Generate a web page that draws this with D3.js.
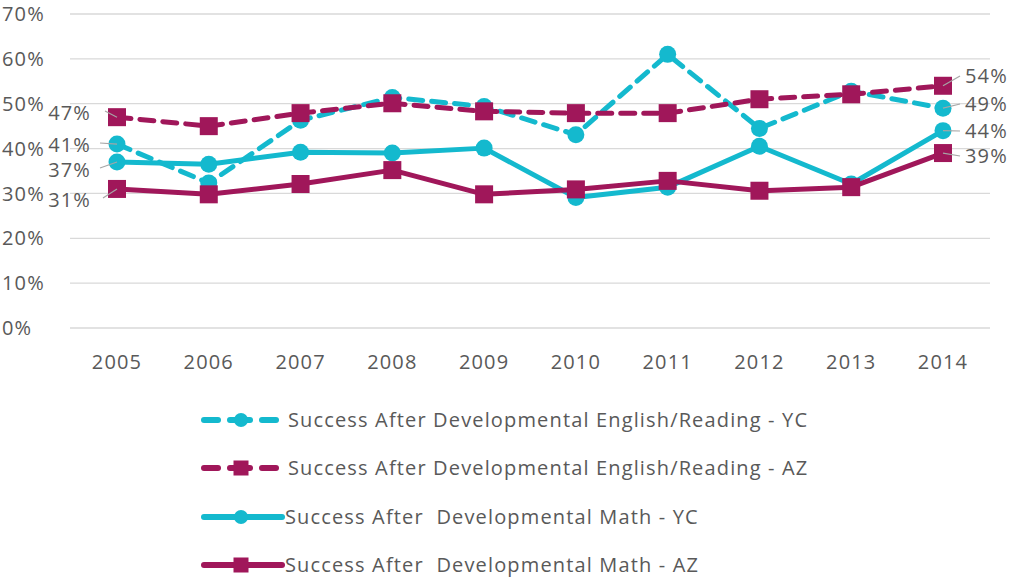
<!DOCTYPE html>
<html>
<head>
<meta charset="utf-8">
<script src="https://cdn.jsdelivr.net/npm/d3@7"></script>
<style>
  body { margin: 0; background: #fff; }
  svg text { font-family: "Open Sans", Lato, sans-serif; fill: #595959; letter-spacing: 1.15px; }
</style>
</head>
<body>
<svg id="chart" width="1013" height="580"></svg>
<script>
// data
const years = [2005, 2006, 2007, 2008, 2009, 2010, 2011, 2012, 2013, 2014];
const engYC  = [41, 32.3, 46.3, 51.4, 49.4, 43.1, 61.0, 44.5, 52.8, 49];
const engAZ  = [47, 45.0, 47.9, 50.1, 48.3, 47.9, 47.9, 51.0, 52.1, 54];
const mathYC = [37, 36.5, 39.2, 39.0, 40.1, 29.1, 31.4, 40.5, 32.1, 44];
const mathAZ = [31, 29.8, 32.1, 35.2, 29.8, 30.9, 32.8, 30.6, 31.4, 39];
const yTicks = [0, 10, 20, 30, 40, 50, 60, 70];
const seriesNames = [
  "Success After Developmental English/Reading - YC",
  "Success After Developmental English/Reading - AZ",
  "Success After\u00a0 Developmental Math - YC",
  "Success After\u00a0 Developmental Math - AZ"
];

const cyan = "#14B9CE", plum = "#A0175A";
const series = [
  {name: seriesNames[0], values: engYC,  color: cyan, dash: "14,9", shape: "circle"},
  {name: seriesNames[1], values: engAZ,  color: plum, dash: "14,9", shape: "square"},
  {name: seriesNames[2], values: mathYC, color: cyan, dash: null,   shape: "circle"},
  {name: seriesNames[3], values: mathAZ, color: plum, dash: null,   shape: "square"}
];

const svg = d3.select("#chart");
const x = d3.scalePoint().domain(years).range([117, 943]);
const y = d3.scaleLinear().domain([0, 70]).range([328, 14]);
const fs = 20;

// grid
svg.append("g").selectAll("line").data(yTicks).join("line")
  .attr("x1", 70).attr("x2", 990)
  .attr("y1", d => y(d)).attr("y2", d => y(d))
  .attr("stroke", "#d9d9d9").attr("stroke-width", 1.3);

// y labels
svg.append("g").selectAll("text").data(yTicks).join("text")
  .attr("x", 2).attr("y", d => y(d)).attr("dy", "0.36em")
  .attr("font-size", fs).text(d => d + "%");

// x labels
svg.append("g").selectAll("text").data(years).join("text")
  .attr("x", d => x(d)).attr("y", 362).attr("dy", "0.36em")
  .attr("text-anchor", "middle").attr("font-size", fs).text(d => d);

const line = d3.line().x((d, i) => x(years[i])).y(d => y(d));

function marker(g, shape, color, size) {
  if (shape === "circle") {
    g.append("circle").attr("r", size).attr("fill", color);
  } else {
    g.append("rect").attr("x", -size).attr("y", -size)
      .attr("width", size * 2).attr("height", size * 2).attr("fill", color);
  }
}

// data labels with leader lines
const leftLabels = [
  {v: engAZ[0],  ty: 113, lx: 105},
  {v: engYC[0],  ty: 145, lx: 100},
  {v: mathYC[0], ty: 170, lx: 100},
  {v: mathAZ[0], ty: 200, lx: 103}
];
const rightLabels = [
  {v: engAZ[9],  ty: 76},
  {v: engYC[9],  ty: 104},
  {v: mathYC[9], ty: 131},
  {v: mathAZ[9], ty: 156}
];
const lab = svg.append("g");
leftLabels.forEach(d => {
  lab.append("line").attr("x1", d.lx).attr("x2", x(2005))
    .attr("y1", d.ty - 2).attr("y2", y(d.v))
    .attr("stroke", "#a6a6a6").attr("stroke-width", 1.2);
});
rightLabels.forEach(d => {
  lab.append("line").attr("x1", x(2014)).attr("x2", 960)
    .attr("y1", y(d.v)).attr("y2", d.ty)
    .attr("stroke", "#a6a6a6").attr("stroke-width", 1.2);
});

// lines and markers
series.forEach(s => {
  const g = svg.append("g");
  g.append("path").datum(s.values).attr("d", line)
    .attr("fill", "none").attr("stroke", s.color).attr("stroke-width", 5)
    .attr("stroke-linecap", "round").attr("stroke-linejoin", "round")
    .attr("stroke-dasharray", s.dash);
  s.values.forEach((v, i) => {
    const m = g.append("g").attr("transform", `translate(${x(years[i])},${y(v)})`);
    marker(m, s.shape, s.color, s.shape === "circle" ? 8.5 : 9);
  });
});

leftLabels.forEach(d => {
  lab.append("text").attr("x", 91).attr("y", d.ty).attr("dy", "0.36em")
    .attr("text-anchor", "end").attr("font-size", fs).text(Math.round(d.v) + "%");
});
rightLabels.forEach(d => {
  lab.append("text").attr("x", 965).attr("y", d.ty).attr("dy", "0.36em")
    .attr("font-size", fs).text(Math.round(d.v) + "%");
});
svg.node().appendChild(lab.node());

// legend
const legY = [420, 468, 517, 565];
const leg = svg.append("g");
series.forEach((s, i) => {
  const g = leg.append("g").attr("transform", `translate(0,${legY[i]})`);
  if (s.dash) {
    [[204, 218], [230, 250], [262, 276]].forEach(seg => {
      g.append("line").attr("x1", seg[0]).attr("x2", seg[1])
        .attr("stroke", s.color).attr("stroke-width", 6).attr("stroke-linecap", "round");
    });
  } else {
    g.append("line").attr("x1", 204).attr("x2", 282)
      .attr("stroke", s.color).attr("stroke-width", 6).attr("stroke-linecap", "round");
  }
  const m = g.append("g").attr("transform", "translate(241,0)");
  marker(m, s.shape, s.color, s.shape === "circle" ? 7 : 7.5);
  g.append("text").attr("x", s.dash ? 288 : 285).attr("y", 0).attr("dy", "0.36em")
    .attr("font-size", fs).text(s.name);
});
</script>
</body>
</html>
